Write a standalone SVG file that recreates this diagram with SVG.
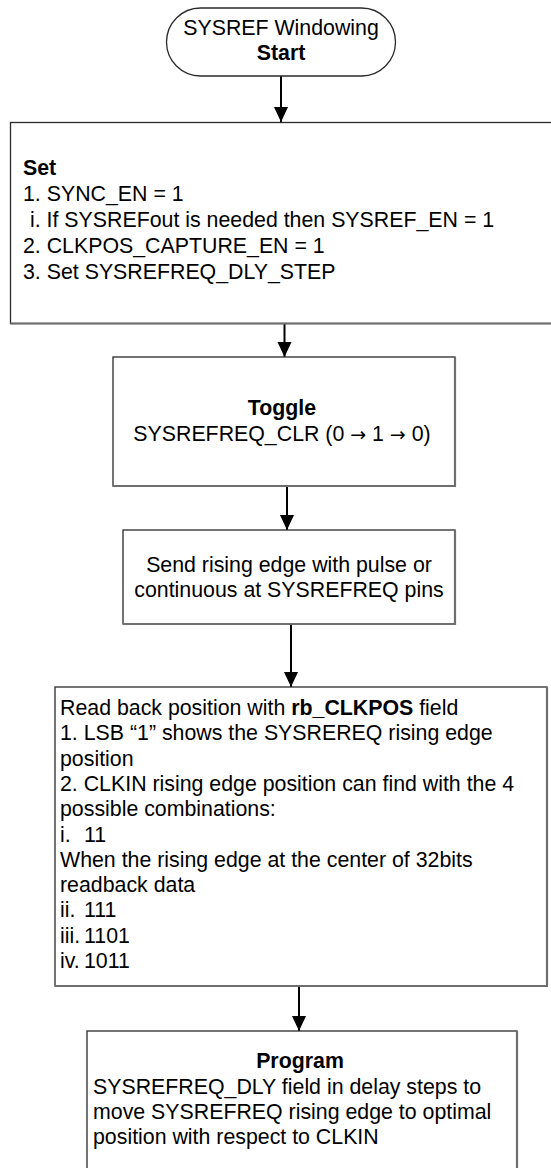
<svg xmlns="http://www.w3.org/2000/svg" width="551" height="1168" viewBox="0 0 551 1168">
<style>
  .t { font-family: "Liberation Sans", Arial, sans-serif; font-size: 21.33px; fill: #000; }
  .b { font-weight: bold; }
  .c { text-anchor: middle; }
  .ar { font-family: "DejaVu Sans", sans-serif; font-size: 19px; }
  .box { fill: #fff; stroke: #2a2a2a; stroke-width: 1.3; }
  .sh { fill: none; stroke: #6e6e6e; stroke-width: 2.2; }
  .conn { stroke: #000; stroke-width: 2; fill: none; }
</style>
<defs>
  <marker id="ah" markerUnits="userSpaceOnUse" markerWidth="16" markerHeight="16" viewBox="0 0 16 16" refX="15" refY="8" orient="auto">
    <path d="M0,1 L15,8 L0,15 Z" fill="#000"/>
  </marker>
</defs>
<rect width="551" height="1168" fill="#fff"/>

<g id="connectors">
  <line class="conn" x1="281" y1="76" x2="281" y2="122" marker-end="url(#ah)"/>
  <line class="conn" x1="284.5" y1="324" x2="284.5" y2="357" marker-end="url(#ah)"/>
  <line class="conn" x1="287" y1="486.5" x2="287" y2="530" marker-end="url(#ah)"/>
  <line class="conn" x1="291" y1="624.5" x2="291" y2="687" marker-end="url(#ah)"/>
  <line class="conn" x1="299" y1="986.5" x2="299" y2="1031" marker-end="url(#ah)"/>
</g>

<g id="start">
  <rect class="box" x="166.5" y="8" width="229" height="68" rx="34" ry="34"/>
  <text class="t c" x="281" y="35">SYSREF Windowing</text>
  <text class="t c b" x="281" y="60">Start</text>
</g>

<g id="set">
  <rect class="box" x="10.5" y="122.5" width="560" height="201"/>
  <polyline class="sh" points="10.5,323.5 571,323.5"/>
  <text class="t b" x="23" y="175">Set</text>
  <text class="t" x="23" y="201">1. SYNC_EN = 1</text>
  <text class="t" x="30" y="227">i. If SYSREFout is needed then SYSREF_EN = 1</text>
  <text class="t" x="23" y="253">2. CLKPOS_CAPTURE_EN = 1</text>
  <text class="t" x="23" y="279">3. Set SYSREFREQ_DLY_STEP</text>
</g>

<g id="toggle">
  <rect class="box" x="113" y="357" width="342" height="129"/>
  <polyline class="sh" points="113,486 455,486 455,357"/>
  <text class="t c b" x="282" y="415">Toggle</text>
  <text class="t c" x="282" y="441">SYSREFREQ_CLR (0 <tspan class="ar">→</tspan> 1 <tspan class="ar">→</tspan> 0)</text>
</g>

<g id="send">
  <rect class="box" x="123" y="530" width="332" height="94"/>
  <polyline class="sh" points="123,624 455,624 455,530"/>
  <text class="t c" x="289" y="572">Send rising edge with pulse or</text>
  <text class="t c" x="289" y="597">continuous at SYSREFREQ pins</text>
</g>

<g id="readback">
  <rect class="box" x="55" y="687" width="492" height="299"/>
  <polyline class="sh" points="55,986 547,986 547,687"/>
  <text class="t" x="60" y="715">Read back position with <tspan class="b">rb_CLKPOS</tspan> field</text>
  <text class="t" x="60" y="740.3">1. LSB “1” shows the SYSREREQ rising edge</text>
  <text class="t" x="60" y="765.6">position</text>
  <text class="t" x="60" y="790.9">2. CLKIN rising edge position can find with the 4</text>
  <text class="t" x="60" y="816.2">possible combinations:</text>
  <text class="t" x="60" y="841.5">i.<tspan x="84">11</tspan></text>
  <text class="t" x="60" y="866.8">When the rising edge at the center of 32bits</text>
  <text class="t" x="60" y="892.1">readback data</text>
  <text class="t" x="60" y="917.4">ii.<tspan x="84">111</tspan></text>
  <text class="t" x="60" y="942.7">iii.<tspan x="84">1101</tspan></text>
  <text class="t" x="60" y="968">iv.<tspan x="84">1011</tspan></text>
</g>

<g id="program">
  <rect class="box" x="87" y="1031" width="430" height="140"/>
  <polyline class="sh" points="517,1031 517,1171"/>
  <text class="t c b" x="300" y="1068">Program</text>
  <text class="t" x="93" y="1093.5">SYSREFREQ_DLY field in delay steps to</text>
  <text class="t" x="93" y="1119">move SYSREFREQ rising edge to optimal</text>
  <text class="t" x="93" y="1144">position with respect to CLKIN</text>
</g>
</svg>
